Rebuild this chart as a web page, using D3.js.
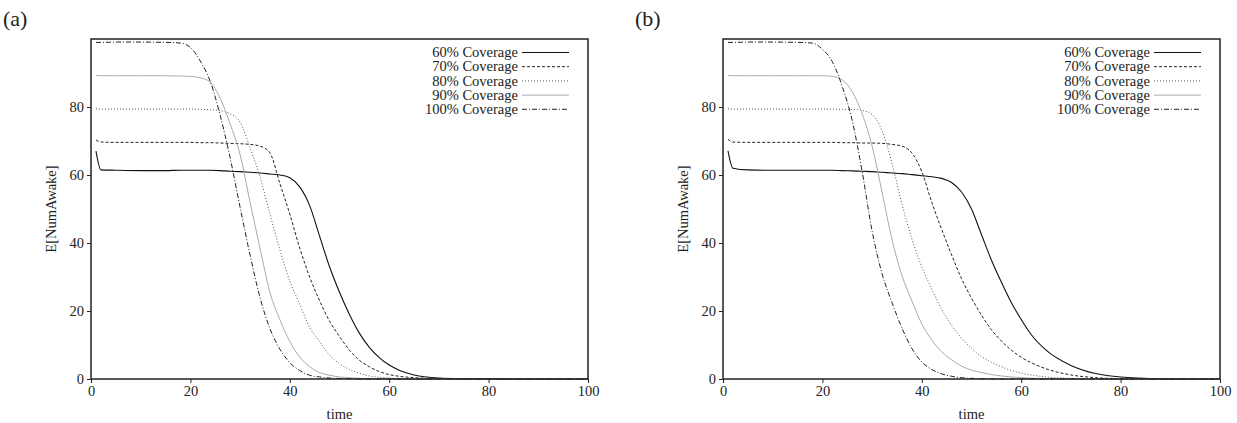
<!DOCTYPE html>
<html>
<head>
<meta charset="utf-8">
<script src="https://cdn.jsdelivr.net/npm/d3@7"></script>
<style>
  body { margin: 0; background: #fff; }
  text { font-family: "Liberation Serif", "Times New Roman", serif; fill: #222; }
</style>
</head>
<body>
<svg width="1237" height="423"></svg>
<script>
// shared time samples (x values)
const times = [1, 2, 5, 10, 15, 18, 20, 22, 24, 26, 28, 30, 32, 34, 36, 38, 40, 42, 44, 46,
               48, 50, 52, 54, 56, 58, 60, 62, 65, 70, 75, 80, 90, 100];

const seriesNames = ["60% Coverage", "70% Coverage", "80% Coverage", "90% Coverage", "100% Coverage"];
const xTicks = [0, 20, 40, 60, 80, 100];
const yTicks = [0, 20, 40, 60, 80];

// panel (a)
const a60 = [67, 61.5, 61.4, 61.3, 61.3, 61.4, 61.4, 61.4, 61.4, 61.3, 61.1, 61.0, 60.8, 60.6, 60.3, 60.0, 59.2, 56.5, 51, 42,
             33, 25.5, 19, 13.5, 9.3, 6.3, 4.1, 2.6, 1.2, 0.3, 0.1, 0.03, 0, 0];
const a70 = [70.3, 69.7, 69.6, 69.6, 69.6, 69.6, 69.6, 69.5, 69.5, 69.4, 69.3, 69.2, 69.0, 68.5, 66.5, 57.5, 48.5, 38.5, 30, 23,
             17, 12.5, 8.5, 5.5, 3.6, 2.2, 1.3, 0.8, 0.4, 0.1, 0.03, 0, 0, 0];
const a80 = [79.5, 79.4, 79.4, 79.4, 79.4, 79.4, 79.4, 79.3, 79.2, 78.9, 78.0, 75.5, 68, 59.5, 48.5, 38, 28.8, 22, 15.2, 11,
             7, 4.5, 2.8, 1.7, 0.9, 0.5, 0.3, 0.15, 0.05, 0, 0, 0, 0, 0];
const a90 = [89.3, 89.2, 89.2, 89.2, 89.2, 89.1, 89.0, 88.6, 87.3, 82.5, 75, 66, 52, 38.5, 25.5, 17.5, 11, 6.5, 3.6, 1.9,
             1.1, 0.6, 0.35, 0.2, 0.1, 0.05, 0, 0, 0, 0, 0, 0, 0, 0];
const a100 = [99.0, 99.0, 99.1, 99.1, 99.0, 98.8, 97.5, 93.5, 87.5, 77.5, 65, 50.5, 36.5, 24, 14.8, 8.8, 4.8, 2.5, 1.1, 0.6,
              0.3, 0.15, 0.08, 0.04, 0, 0, 0, 0, 0, 0, 0, 0, 0, 0];

// panel (b)
const b60 = [67.1, 62, 61.5, 61.4, 61.4, 61.4, 61.4, 61.4, 61.3, 61.2, 61.1, 61.0, 60.8, 60.6, 60.4, 60.1, 59.8, 59.5, 59.0, 57.8,
             55, 50, 42.5, 35, 28.5, 22.5, 17.5, 13.1, 8.5, 4, 1.6, 0.6, 0.05, 0];
const b70 = [70.5, 69.7, 69.6, 69.6, 69.6, 69.6, 69.6, 69.6, 69.5, 69.5, 69.4, 69.4, 69.3, 69.0, 68.5, 66.5, 61, 52, 44, 36.5,
             29.5, 23.8, 18.8, 14.5, 11.2, 8.5, 6.4, 4.8, 3, 1.2, 0.4, 0.12, 0.01, 0];
const b80 = [79.5, 79.4, 79.4, 79.4, 79.4, 79.4, 79.4, 79.4, 79.3, 79.3, 79.0, 77.8, 73, 63.5, 51.5, 41.2, 33, 26.5, 20.5, 15.8,
             12, 9, 6.6, 4.9, 3.6, 2.5, 1.7, 1.2, 0.6, 0.2, 0.05, 0, 0, 0];
const b90 = [89.3, 89.2, 89.2, 89.2, 89.2, 89.2, 89.2, 89.0, 88.0, 84.5, 78, 68.5, 55, 41, 30.5, 23, 16.2, 11.5, 8, 5.6,
             3.8, 2.6, 1.9, 1.3, 0.9, 0.6, 0.4, 0.25, 0.1, 0.03, 0, 0, 0, 0];
const b100 = [99.0, 99.0, 99.1, 99.1, 99.0, 98.8, 97, 93.3, 86, 76, 61, 43.5, 31, 22.5, 15, 9, 5, 2.8, 1.5, 0.8,
              0.4, 0.2, 0.1, 0.05, 0, 0, 0, 0, 0, 0, 0, 0, 0, 0];

// line styles, one per coverage level
const styles = [
    { color: "#111", width: 1.1, dash: null },
    { color: "#222", width: 1, dash: "3,2" },
    { color: "#555", width: 1, dash: "1,2" },
    { color: "#aaa", width: 1, dash: null },
    { color: "#222", width: 1, dash: "5,2,1,2" }
];

const svg = d3.select("svg");
const plotW = 497;
const plotTop = 39, plotBottom = 379;
const fontSize = "14.5px";

function drawPanel(title, left, series) {
    const x = d3.scaleLinear().domain([0, 100]).range([left, left + plotW]);
    const y = d3.scaleLinear().domain([0, 100]).range([plotBottom, plotTop]);
    const g = svg.append("g");

    // panel title, same offset from the plot in both panels
    g.append("text")
        .attr("x", left - 88)
        .attr("y", 26)
        .style("font-size", "22px")
        .text(title);

    // x axis
    const xAxis = g.append("g")
        .attr("transform", `translate(0,${plotBottom})`)
        .call(d3.axisBottom(x).tickValues(xTicks).tickSize(4).tickSizeOuter(0).tickPadding(3));
    xAxis.select(".domain").remove();
    xAxis.selectAll("line").attr("stroke", "#222");
    xAxis.selectAll("text").style("font-size", fontSize).style("font-family", "Liberation Serif");

    // y axis
    const yAxis = g.append("g")
        .attr("transform", `translate(${left},0)`)
        .call(d3.axisLeft(y).tickValues(yTicks).tickSize(4).tickSizeOuter(0).tickPadding(3));
    yAxis.select(".domain").remove();
    yAxis.selectAll("line").attr("stroke", "#222");
    yAxis.selectAll("text").style("font-size", fontSize).style("font-family", "Liberation Serif");

    // axis labels
    g.append("text")
        .attr("x", left + plotW / 2)
        .attr("y", 419)
        .attr("text-anchor", "middle")
        .style("font-size", fontSize)
        .text("time");

    g.append("text")
        .attr("transform", `translate(${left - 35},${(plotTop + plotBottom) / 2}) rotate(-90)`)
        .attr("text-anchor", "middle")
        .style("font-size", fontSize)
        .text("E[NumAwake]");

    // curves
    const line = d3.line()
        .x((d, i) => x(times[i]))
        .y(d => y(d))
        .curve(d3.curveMonotoneX);

    series.forEach((vals, k) => {
        const s = styles[k];
        g.append("path")
            .datum(vals)
            .attr("fill", "none")
            .attr("stroke", s.color)
            .attr("stroke-width", s.width)
            .attr("stroke-dasharray", s.dash)
            .attr("d", line);
    });

    // frame
    g.append("rect")
        .attr("x", left)
        .attr("y", plotTop)
        .attr("width", plotW)
        .attr("height", plotBottom - plotTop)
        .attr("fill", "none")
        .attr("stroke", "#222")
        .attr("stroke-width", 1.5);

    // legend
    const right = left + plotW;
    seriesNames.forEach((name, k) => {
        const ly = 52.5 + k * 14.2;
        const s = styles[k];
        g.append("text")
            .attr("x", right - 70)
            .attr("y", ly)
            .attr("dy", "0.33em")
            .attr("text-anchor", "end")
            .style("font-size", fontSize)
            .text(name);
        g.append("line")
            .attr("x1", right - 66)
            .attr("x2", right - 19)
            .attr("y1", ly)
            .attr("y2", ly)
            .attr("stroke", s.color)
            .attr("stroke-width", s.width)
            .attr("stroke-dasharray", s.dash);
    });
}

drawPanel("(a)", 91, [a60, a70, a80, a90, a100]);
drawPanel("(b)", 723, [b60, b70, b80, b90, b100]);
</script>
</body>
</html>
